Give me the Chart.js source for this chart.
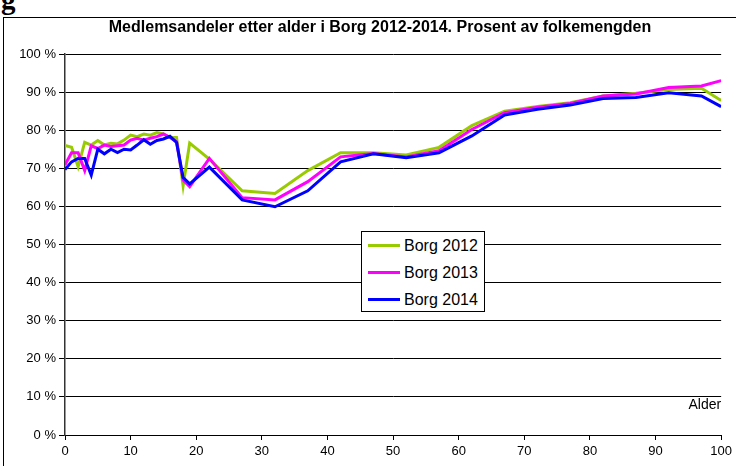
<!DOCTYPE html>
<html>
<head>
<meta charset="utf-8">
<script src="https://cdn.jsdelivr.net/npm/chart.js@4.4.0/dist/chart.umd.min.js"></script>
<style>
  body { margin: 0; background: #fff; }
  #wrap { position: relative; width: 736px; height: 466px; overflow: hidden; font-family: "Liberation Sans", Arial, sans-serif; }
  #frame { position: absolute; left: 3px; top: 17px; right: -10px; bottom: -10px; border: 1px solid #000; }
  #head { position: absolute; left: 1px; top: -17px; font: bold 29px "Liberation Serif", serif; color: #000; }
  #legend { position: absolute; left: 361px; top: 231px; width: 122px; height: 79px; border: 1px solid #000; background: #fff; }
  .item { position: absolute; left: 6px; height: 20px; line-height: 20px; font-size: 16px; color: #000; white-space: nowrap; }
  .item span { display: inline-block; width: 32px; height: 3px; vertical-align: middle; margin-right: 4px; margin-top: -2px; }
  canvas { position: absolute; left: 0; top: 0; }
</style>
</head>
<body>
<div id="wrap">
  <div id="head">g</div>
  <div id="frame"></div>
  <canvas id="chart" width="736" height="466"></canvas>
  <div id="legend"></div>
</div>
<script>
// data
const title = 'Medlemsandeler etter alder i Borg 2012-2014. Prosent av folkemengden';
const ages = [0, 1, 2, 3, 4, 5, 6, 7, 8, 9, 10, 11, 12, 13, 14, 15, 16, 17, 18, 19,
              22, 27, 32, 37, 42, 47, 52, 57, 62, 67, 72, 77, 82, 87, 92, 97, 100];
const borg2012 = [76.0, 75.5, 70.4, 76.8, 76.1, 77.3, 76.1, 76.6, 76.4, 77.4, 78.7, 78.3, 79.0, 78.7, 79.4, 79.0, 78.1, 78.1, 65.4, 76.6,
                  72.4, 64.1, 63.4, 69.4, 74.1, 74.1, 73.5, 75.5, 81.2, 85.0, 86.2, 87.2, 89.0, 89.7, 90.7, 91.0, 87.8];
const borg2013 = [70.9, 74.1, 74.1, 69.4, 75.9, 75.2, 76.1, 75.7, 75.9, 76.1, 77.4, 77.9, 77.4, 77.9, 78.3, 79.0, 78.1, 77.0, 66.9, 65.2,
                  72.6, 62.3, 61.7, 66.5, 73.0, 73.9, 73.0, 74.6, 80.2, 84.6, 86.0, 87.0, 89.0, 89.5, 91.2, 91.6, 93.0];
const borg2014 = [69.7, 71.7, 72.6, 72.6, 68.2, 75.0, 73.8, 75.0, 74.1, 75.0, 74.8, 76.1, 77.5, 76.3, 77.3, 77.7, 78.4, 76.8, 67.6, 65.9,
                  70.3, 61.7, 59.9, 64.1, 71.7, 73.8, 72.8, 74.1, 78.5, 84.0, 85.5, 86.6, 88.3, 88.6, 89.8, 89.0, 86.2];
const seriesNames = ['Borg 2012', 'Borg 2013', 'Borg 2014'];
const seriesColors = ['#99CC00', '#FF00FF', '#0000FF'];
const xAxisLabel = 'Alder';

const FONT = '"Liberation Sans", Arial, sans-serif';

function toPoints(values) {
    return values.map((v, i) => ({ x: ages[i], y: v }));
}

const datasets = [borg2012, borg2013, borg2014].map((values, i) => ({
    label: seriesNames[i],
    data: toPoints(values),
    borderColor: seriesColors[i],
    backgroundColor: seriesColors[i],
    borderWidth: 3,
    pointRadius: 0,
    tension: 0,
    order: 3 - i
}));

// title and axis label drawn on the canvas
const textPlugin = {
    id: 'texts',
    afterDraw(chart) {
        const ctx = chart.ctx;
        const area = chart.chartArea;
        ctx.save();
        ctx.fillStyle = '#000';
        ctx.font = 'bold 16px ' + FONT;
        ctx.textAlign = 'center';
        ctx.textBaseline = 'middle';
        ctx.fillText(title, 380, 28);
        ctx.font = '14px ' + FONT;
        ctx.textAlign = 'right';
        ctx.textBaseline = 'top';
        ctx.fillText(xAxisLabel, area.right, 398);
        ctx.restore();
    }
};

new Chart(document.getElementById('chart').getContext('2d'), {
    type: 'line',
    data: { datasets: datasets },
    options: {
        responsive: false,
        animation: false,
        layout: { padding: { top: 54, left: 0, right: 12, bottom: 0 } },
        plugins: {
            legend: { display: false },
            title: { display: false },
            tooltip: { enabled: false }
        },
        scales: {
            x: {
                type: 'linear',
                min: 0,
                max: 100,
                afterFit: s => { s.height = 31; },
                border: { color: '#000', width: 1 },
                grid: { drawOnChartArea: false, drawTicks: true, tickLength: 5, color: '#000' },
                ticks: { stepSize: 10, color: '#000', padding: 4, font: { family: FONT, size: 13 } }
            },
            y: {
                min: 0,
                max: 100,
                afterFit: s => { s.width = 65; },
                border: { color: '#333', width: 1.5 },
                grid: { color: '#000', lineWidth: 1, drawTicks: true, tickLength: 6 },
                ticks: {
                    stepSize: 10,
                    color: '#000',
                    padding: 3,
                    font: { family: FONT, size: 13 },
                    callback: v => v + ' %'
                }
            }
        }
    },
    plugins: [textPlugin]
});

// legend box inside the plot
const legend = document.getElementById('legend');
seriesNames.forEach((name, i) => {
    const row = document.createElement('div');
    row.className = 'item';
    row.style.top = (4 + i * 27) + 'px';
    row.innerHTML = '<span style="background:' + seriesColors[i] + '"></span>' + name;
    legend.appendChild(row);
});
</script>
</body>
</html>
